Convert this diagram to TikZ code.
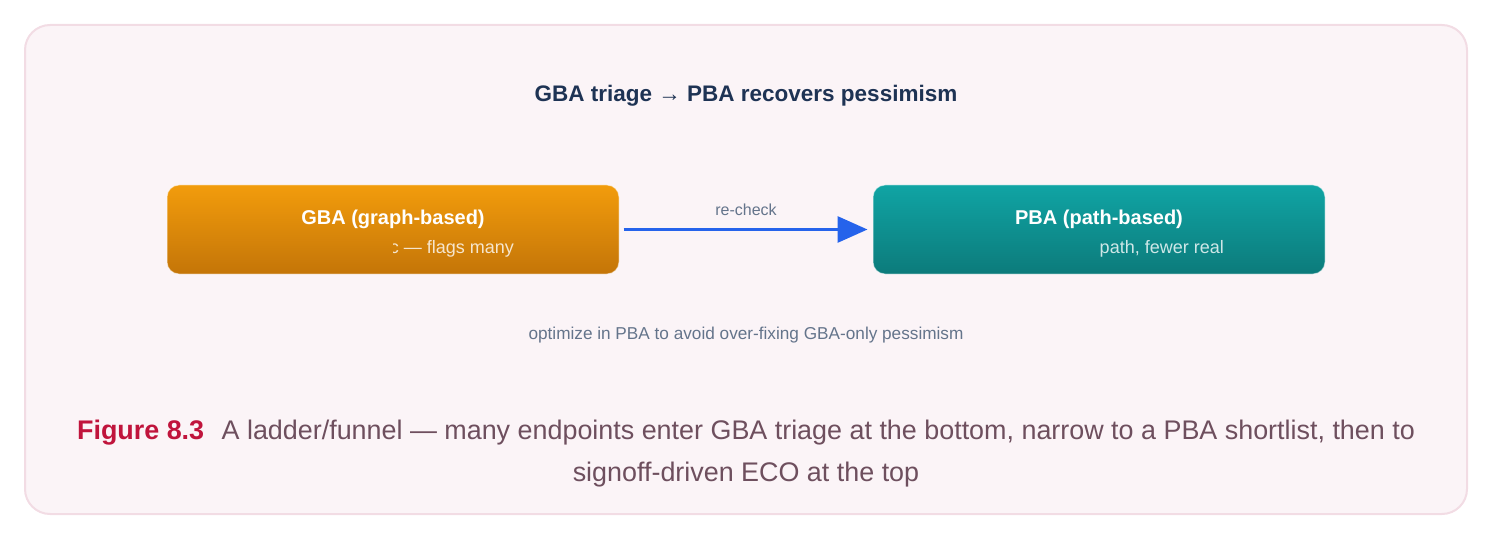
\documentclass[tikz,border=0pt]{standalone}
\usepackage{fontspec}
\setmainfont{Liberation Sans}
\usetikzlibrary{positioning,arrows.meta}
\definecolor{framefill}{HTML}{FBF4F7}
\definecolor{framedraw}{HTML}{F2DCE4}
\definecolor{gbatop}{HTML}{F29C0C}
\definecolor{gbabot}{HTML}{C47508}
\definecolor{pbatop}{HTML}{10A4A4}
\definecolor{pbabot}{HTML}{0C7B7B}
\definecolor{arrowblue}{HTML}{2563EB}
\definecolor{notegray}{HTML}{64748B}
\definecolor{titleblue}{HTML}{1E3354}
\definecolor{figred}{HTML}{C0143C}
\definecolor{captext}{HTML}{6E4F5E}

\begin{document}
\begin{tikzpicture}[
     x=1pt, y=-1pt,
     % define styles
     frame/.style={
         draw=framedraw,
         fill=framefill,
         line width=2pt,
         rounded corners=25pt
     },
     stage/.style={
         minimum width=452pt,
         minimum height=89pt,
         inner sep=0pt,
         rounded corners=12pt,
         draw=white,
         draw opacity=0.5,
         line width=1pt
     },
     heading/.style={
         font=\fontsize{20}{24}\selectfont\bfseries,
         text=white
     },
     detail/.style={
         font=\fontsize{18}{22}\selectfont,
         text=white,
         text opacity=0.8,
         inner sep=0pt
     },
     note/.style={
         font=\fontsize{17.2}{20}\selectfont,
         text=notegray
     },
     >={Triangle[length=30pt,width=26pt]}
]
\useasboundingbox (0,0) rectangle (1494,540);
% outer card
\draw[frame] (25,25) rectangle (1467,514);

% title
\node[font=\fontsize{22.5}{27}\selectfont\bfseries, text=titleblue] (title) at (746,95.5)
    {GBA triage → PBA recovers pessimism};

% the two stages
\node[stage, top color=gbatop, bottom color=gbabot] (gba) at (393,229.5) {};
\node[stage, top color=pbatop, bottom color=pbabot, right=253pt of gba] (pba) {};

\node[heading] (gbahead) at ([yshift=10.5pt]gba.center) {GBA (graph-based)};
\node[heading] (pbahead) at ([yshift=10.5pt]pba.center) {PBA (path-based)};

% sub lines only show on the right half of each box
\begin{scope}
    \clip (gba.north) rectangle (gba.south east);
    \node[detail, anchor=east] (gbanote) at ([xshift=121pt,yshift=-19.5pt]gba.center) {c — flags many};
\end{scope}
\begin{scope}
    \clip (pba.north) rectangle (pba.south east);
    \node[detail, anchor=east] (pbanote) at ([xshift=125pt,yshift=-19.5pt]pba.center) {path, fewer real};
\end{scope}

% re-check arrow
\draw[->, arrowblue, line width=3pt, shorten <=4pt, shorten >=5pt] (gba) --
    node[note, above=9pt, font=\fontsize{16}{18}\selectfont] (recheck) {re-check} (pba);

% hint under the boxes
\node[note] (hint) at (746,335) {optimize in PBA to avoid over-fixing GBA-only pessimism};

% caption
\node[align=center, font=\fontsize{26.9}{42}\selectfont, text=captext] (caption) at (746,454)
    {{\bfseries\color{figred}Figure 8.3}\hspace{0.65em}A ladder/funnel — many endpoints enter GBA triage at the bottom, narrow to a PBA shortlist, then to\\
     signoff-driven ECO at the top};
\end{tikzpicture}
\end{document}
